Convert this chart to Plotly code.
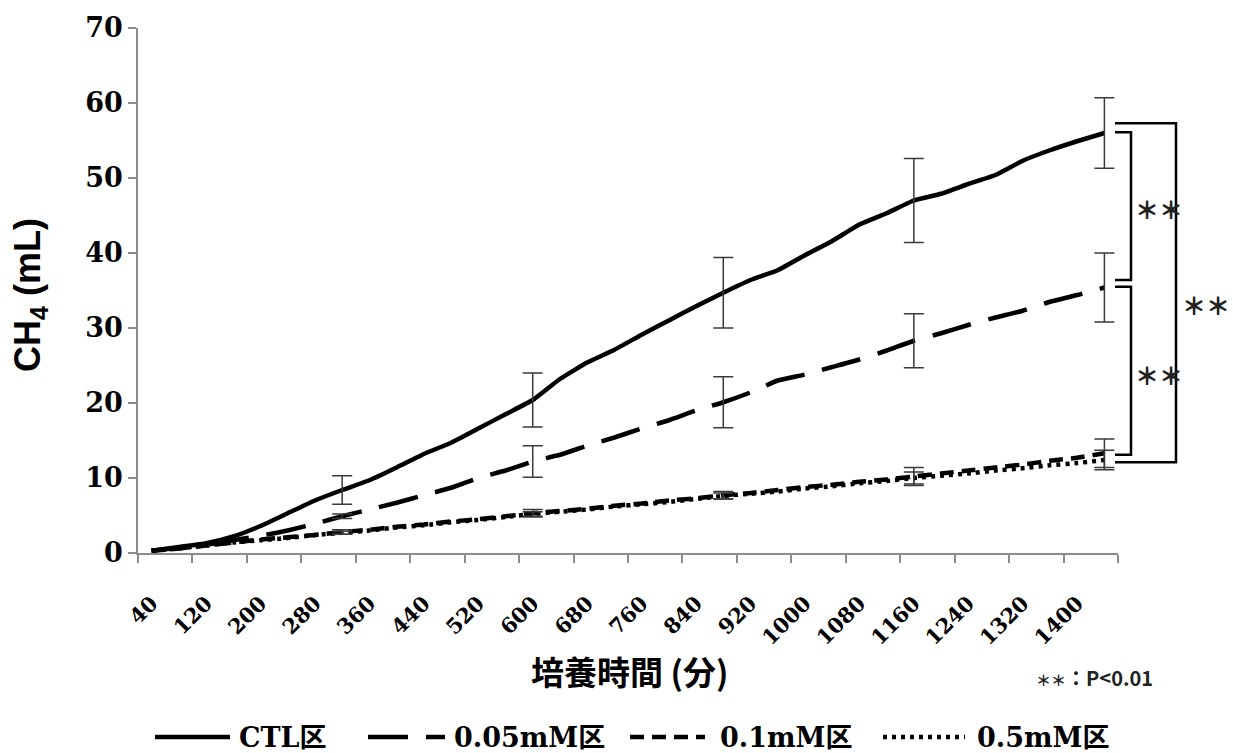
import plotly.graph_objects as go

# Incubation time (min) and cumulative CH4 (mL) per treatment
time_min = [40, 80, 120, 160, 200, 240, 280, 320, 360, 400, 440, 480,
            520, 560, 600, 640, 680, 720, 760, 800, 840, 880, 920, 960,
            1000, 1040, 1080, 1120, 1160, 1200, 1240, 1280, 1320, 1360, 1400, 1440]

ctl = [0.3, 0.8, 1.3, 2.2, 3.6, 5.3, 7.0, 8.4, 9.7, 11.4, 13.2, 14.7,
       16.6, 18.5, 20.4, 23.2, 25.4, 27.1, 29.1, 31.0, 32.9, 34.7, 36.4, 37.7,
       39.7, 41.6, 43.8, 45.3, 47.0, 47.9, 49.2, 50.4, 52.3, 53.7, 54.9, 56.0]

mm005 = [0.3, 0.7, 1.1, 1.7, 2.3, 3.0, 3.9, 4.9, 5.8, 6.7, 7.7, 8.7,
         10.0, 11.0, 12.2, 13.1, 14.3, 15.4, 16.6, 17.7, 19.0, 20.1, 21.4, 23.0,
         23.8, 24.8, 25.8, 27.0, 28.3, 29.3, 30.4, 31.4, 32.3, 33.5, 34.4, 35.4]

mm01 = [0.3, 0.6, 1.0, 1.4, 1.8, 2.1, 2.4, 2.8, 3.1, 3.5, 3.8, 4.2,
        4.5, 4.9, 5.3, 5.6, 5.9, 6.3, 6.6, 7.0, 7.3, 7.7, 8.0, 8.4,
        8.8, 9.1, 9.5, 9.8, 10.2, 10.6, 11.0, 11.4, 11.8, 12.3, 12.7, 13.3]

mm05 = [0.3, 0.6, 1.0, 1.4, 1.7, 2.0, 2.4, 2.7, 3.0, 3.4, 3.7, 4.1,
        4.4, 4.8, 5.2, 5.5, 5.8, 6.2, 6.5, 6.8, 7.2, 7.6, 7.9, 8.2,
        8.6, 8.9, 9.3, 9.6, 10.0, 10.3, 10.6, 11.0, 11.3, 11.7, 12.0, 12.4]

# Standard deviations at the sampled time points
err_times = [320, 600, 880, 1160, 1440]
ctl_err = [1.9, 3.6, 4.7, 5.6, 4.7]
mm005_err = [0.3, 2.1, 3.4, 3.6, 4.6]
mm01_err = [0.3, 0.5, 0.5, 1.2, 1.9]
mm05_err = [0.2, 0.3, 0.4, 0.8, 1.3]

tick_labels = ["40", "120", "200", "280", "360", "440", "520", "600", "680",
               "760", "840", "920", "1000", "1080", "1160", "1240", "1320", "1400"]

series = [
    ("CTL区", ctl, ctl_err, "solid"),
    ("0.05mM区", mm005, mm005_err, "40px,18px"),
    ("0.1mM区", mm01, mm01_err, "14px,8px"),
    ("0.5mM区", mm05, mm05_err, "4px,5px"),
]

# Plot-area geometry in pixels
L, R, T, B = 138, 1118, 28, 553
W, H = 1233, 753


def px_x(px):
    return (px - L) / (R - L)


def px_y(py):
    return (B - py) / (B - T)


fig = go.Figure()
for name, vals, errs, dash in series:
    fig.add_trace(go.Scatter(
        x=time_min, y=vals, name=name, mode="lines", showlegend=False,
        line=dict(color="black", width=4.5, dash=dash, shape="spline", smoothing=0.4),
        hoverinfo="skip",
    ))

for name, vals, errs, dash in series:
    ys = [vals[time_min.index(t)] for t in err_times]
    fig.add_trace(go.Scatter(
        x=err_times, y=ys, mode="markers", showlegend=False,
        marker=dict(size=0.1, color="rgba(0,0,0,0)"),
        error_y=dict(type="data", array=errs, visible=True,
                     color="#3a3a3a", thickness=1.5, width=10),
        hoverinfo="skip",
    ))

axis_gray = "#8c8c8c"

# Significance brackets to the right of the plot area (paper x, data y)
xa, xb, xc = px_x(1115), px_x(1131), px_x(1176)
brackets = [
    (xb, ctl[-1] + 0.1, mm005[-1] + 1.0),
    (xb, mm005[-1] + 0.1, mm01[-1] - 0.2),
    (xc, ctl[-1] + 1.3, mm05[-1] - 0.3),
]
shapes = []
for xr, top, bot in brackets:
    shapes.append(dict(
        type="path", xref="paper", yref="y",
        path=f"M {xa} {top} L {xr} {top} L {xr} {bot} L {xa} {bot}",
        line=dict(color="black", width=2.5),
    ))

star_font = dict(family="Noto Sans CJK JP", size=24, color="#222222", weight=900)
annotations = [
    dict(text="＊＊", xref="paper", yref="y", x=px_x(1133), xanchor="left",
         y=(ctl[-1] + mm005[-1]) / 2 + 0.3, yanchor="middle",
         showarrow=False, font=star_font),
    dict(text="＊＊", xref="paper", yref="y", x=px_x(1133), xanchor="left",
         y=(mm005[-1] + mm01[-1]) / 2 - 0.6, yanchor="middle",
         showarrow=False, font=star_font),
    dict(text="＊＊", xref="paper", yref="y", x=px_x(1180), xanchor="left",
         y=(ctl[-1] + mm05[-1]) / 2 - 1.0, yanchor="middle",
         showarrow=False, font=star_font),
    dict(text="CH<sub>4</sub> (mL)", xref="paper", yref="paper",
         x=px_x(30), y=px_y(295), xanchor="center", yanchor="middle",
         textangle=-90, showarrow=False,
         font=dict(family="Liberation Sans", size=36, color="black", weight="bold")),
    dict(text="培養時間 (分)", xref="paper", yref="paper",
         x=px_x(629), y=px_y(671), xanchor="center", yanchor="middle",
         showarrow=False,
         font=dict(family="Noto Sans CJK JP", size=33, color="black", weight="bold")),
    dict(text="<span style='font-size:15px'>＊＊</span>：P<0.01",
         xref="paper", yref="paper",
         x=px_x(1034), xanchor="left", y=px_y(677), yanchor="middle",
         showarrow=False,
         font=dict(family="Noto Sans CJK JP", size=20, color="#222222", weight="bold")),
]

# Legend row along the bottom: line sample followed by its label
legend_y = px_y(737)
legend_items = [(155, 230, 237), (368, 445, 452), (630, 705, 718), (883, 965, 975)]
for (name, vals, errs, dash), (x0, x1, xt) in zip(series, legend_items):
    shapes.append(dict(
        type="line", xref="paper", yref="paper",
        x0=px_x(x0), x1=px_x(x1), y0=legend_y, y1=legend_y,
        line=dict(color="black", width=4.5, dash=dash),
    ))
    annotations.append(dict(
        text=name, xref="paper", yref="paper", x=px_x(xt), xanchor="left",
        y=legend_y, yanchor="middle", showarrow=False,
        font=dict(family="DejaVu Serif, Noto Sans CJK JP", size=27,
                  color="black", weight="bold"),
    ))

fig.update_layout(
    width=W, height=H,
    margin=dict(l=L, r=W - R, t=T, b=H - B, autoexpand=False),
    paper_bgcolor="white", plot_bgcolor="white",
    showlegend=False,
    xaxis=dict(
        range=[20, 1460], tickmode="array",
        tickvals=[int(t) for t in tick_labels], ticktext=tick_labels,
        tickangle=-45, ticks="outside", ticklen=28, tickcolor="rgba(0,0,0,0)",
        minor=dict(tick0=20, dtick=80, ticks="outside", ticklen=8,
                   tickcolor=axis_gray, tickwidth=1.5, showgrid=False),
        showline=True, linecolor=axis_gray, linewidth=1.5,
        showgrid=False, zeroline=False, automargin=False,
        tickfont=dict(family="DejaVu Serif", size=21, color="black", weight="bold"),
    ),
    yaxis=dict(
        range=[0, 70], tickmode="linear", tick0=0, dtick=10,
        ticks="outside", ticklen=8, tickcolor=axis_gray, tickwidth=1.5,
        showline=True, linecolor=axis_gray, linewidth=1.5,
        showgrid=False, zeroline=False, automargin=False,
        tickfont=dict(family="DejaVu Serif", size=27, color="black", weight="bold"),
    ),
    shapes=shapes,
    annotations=annotations,
)

fig.write_html("out.html")
